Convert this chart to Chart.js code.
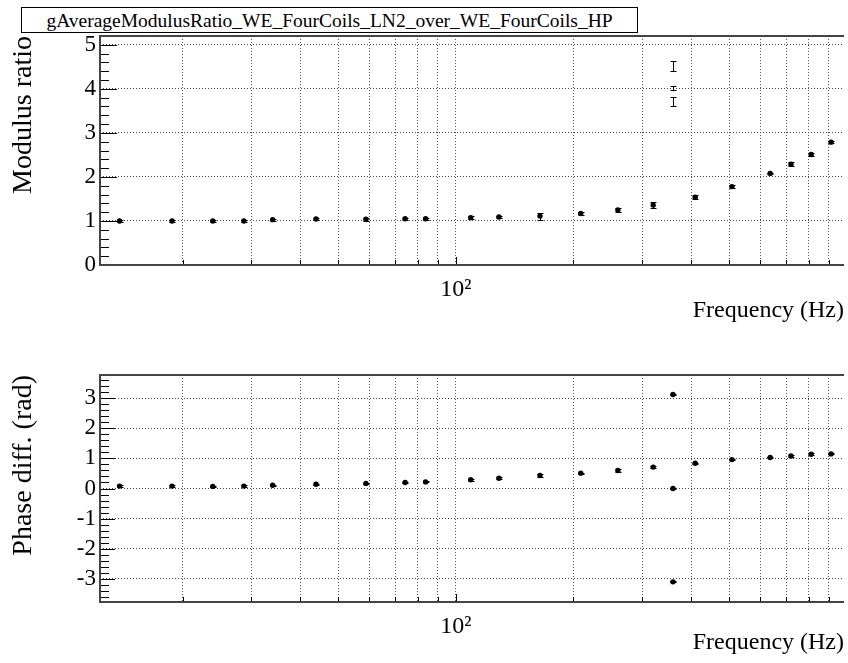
<!DOCTYPE html>
<html>
<head>
<meta charset="utf-8">
<script src="https://cdn.jsdelivr.net/npm/chart.js@4.4.0/dist/chart.umd.min.js"></script>
<style>
  html, body { margin: 0; padding: 0; background: #fff; }
  body { width: 848px; height: 663px; position: relative; overflow: hidden; }
  canvas { position: absolute; left: 0; }
  #modCanvas { top: 0; }
  #phaseCanvas { top: 331px; }
  #titleBox {
    position: absolute; left: 21px; top: 7px; width: 615px; height: 24px;
    border: 1px solid #000; background: #fff; z-index: 2;
    font-family: 'Liberation Serif', 'Times New Roman', serif; font-size: 19.5px;
    line-height: 25px; text-align: center; color: #000; white-space: nowrap;
  }
</style>
</head>
<body>
<canvas id="modCanvas" width="848" height="331"></canvas>
<canvas id="phaseCanvas" width="848" height="332"></canvas>
<div id="titleBox">gAverageModulusRatio_WE_FourCoils_LN2_over_WE_FourCoils_HP</div>
<script>
// measured points (Hz)
const freqHz = [13.8, 18.8, 23.9, 28.7, 34.0, 43.9, 58.9, 74.2, 83.7, 109.2, 128.9,
                164.2, 208.7, 259.8, 319.8, 409.6, 508.6, 637, 720, 811, 912];
const modulusRatio = [1.0, 1.0, 1.0, 1.0, 1.03, 1.045, 1.04, 1.05, 1.05, 1.075, 1.09,
                      1.11, 1.17, 1.25, 1.36, 1.54, 1.78, 2.08, 2.29, 2.51, 2.79];
const modulusErr = [0.02, 0.02, 0.02, 0.02, 0.02, 0.03, 0.03, 0.02, 0.02, 0.03, 0.03,
                    0.08, 0.04, 0.04, 0.075, 0.04, 0.03, 0.02, 0.04, 0.04, 0.02];
const phaseRad = [0.08, 0.08, 0.07, 0.08, 0.11, 0.14, 0.17, 0.20, 0.22, 0.29, 0.34,
                  0.43, 0.51, 0.60, 0.71, 0.84, 0.96, 1.03, 1.08, 1.14, 1.15];
const phaseErr = [0.03, 0.03, 0.02, 0.02, 0.02, 0.02, 0.02, 0.02, 0.02, 0.03, 0.03,
                  0.05, 0.02, 0.04, 0.03, 0.02, 0.02, 0.02, 0.02, 0.03, 0.02];

// the odd bin near 360 Hz
const jumpFreqHz = [359.3, 359.3, 359.3];
const jumpModulus = [4.52, 4.03, 3.72];
const jumpModulusErr = [0.12, 0.045, 0.10];
const jumpPhase = [3.12, 0.0, -3.10];
const jumpPhaseErr = [0.02, 0.03, 0.02];

// axes
const freqTicks = [20, 30, 40, 50, 60, 70, 80, 90, 100, 200, 300, 400, 500, 600, 700, 800, 900];
const freqMajor = [100];
const freqRange = [12.3, 984];
const modulusRange = [0, 5.2];
const phaseRange = [-3.77, 3.77];

const serif = "'Liberation Serif', 'Times New Roman', serif";

function isInt(v) {
  return Math.abs(v - Math.round(v)) < 1e-6;
}

function pts(xs, ys) {
  return xs.map((x, i) => ({ x: x, y: ys[i] }));
}

// y ticks every 0.2, labels only on integers
function yTickList(lo, hi) {
  let res = [];
  for (let k = Math.ceil(lo / 0.2 - 1e-9); k <= Math.floor(hi / 0.2 + 1e-9); k++) {
    res.push({ value: Math.round(k * 2) / 10 });
  }
  return res;
}

const errorBars = {
  id: 'errorBars',
  afterDatasetsDraw(chart) {
    const ctx = chart.ctx;
    const y = chart.scales.y;
    ctx.save();
    ctx.strokeStyle = '#000';
    ctx.lineWidth = 1;
    chart.data.datasets.forEach((ds, di) => {
      const meta = chart.getDatasetMeta(di);
      meta.data.forEach((pt, i) => {
        const e = ds.errors[i];
        const v = ds.data[i].y;
        const px = Math.round(pt.x) + 0.5;
        const y1 = Math.round(y.getPixelForValue(v + e)) + 0.5;
        const y2 = Math.round(y.getPixelForValue(v - e)) + 0.5;
        ctx.beginPath();
        ctx.moveTo(px, y1); ctx.lineTo(px, y2);
        ctx.moveTo(px - 3, y1); ctx.lineTo(px + 3, y1);
        ctx.moveTo(px - 3, y2); ctx.lineTo(px + 3, y2);
        ctx.stroke();
      });
    });
    ctx.restore();
  }
};

// ROOT style frame with ticks pointing inwards
const rootFrame = {
  id: 'rootFrame',
  afterDraw(chart, args, opts) {
    const ctx = chart.ctx;
    const a = chart.chartArea;
    const x = chart.scales.x, y = chart.scales.y;
    ctx.save();
    ctx.strokeStyle = '#000';
    ctx.lineWidth = 1;
    ctx.beginPath();
    y.ticks.forEach(t => {
      const py = Math.round(y.getPixelForValue(t.value)) + 0.5;
      const len = isInt(t.value) ? opts.yMajor : opts.yMinor;
      ctx.moveTo(a.left, py); ctx.lineTo(a.left + len, py);
    });
    x.ticks.forEach(t => {
      const px = Math.round(x.getPixelForValue(t.value)) + 0.5;
      const len = freqMajor.includes(t.value) ? opts.xMajor : opts.xMinor;
      ctx.moveTo(px, a.bottom); ctx.lineTo(px, a.bottom - len);
    });
    ctx.stroke();
    ctx.strokeStyle = '#444';
    ctx.lineWidth = 2;
    ctx.beginPath();
    ctx.moveTo(a.right, a.top);
    ctx.lineTo(a.left, a.top);
    ctx.lineTo(a.left, a.bottom);
    ctx.lineTo(a.right, a.bottom);
    ctx.stroke();
    ctx.restore();
  }
};

function makeChart(id, cfg) {
  return new Chart(document.getElementById(id), {
    type: 'scatter',
    data: {
      datasets: [{
        data: pts(freqHz, cfg.values),
        errors: cfg.errors,
        pointRadius: 2.7,
        pointBorderWidth: 0,
        backgroundColor: '#000',
        borderColor: '#000'
      }, {
        data: pts(jumpFreqHz, cfg.jumpValues),
        errors: cfg.jumpErrors,
        pointRadius: cfg.jumpRadius,
        pointBorderWidth: 0,
        backgroundColor: '#000',
        borderColor: '#000'
      }]
    },
    options: {
      responsive: false,
      animation: false,
      events: [],
      layout: { padding: { top: cfg.padTop, left: 0, right: 0, bottom: 0 } },
      plugins: {
        legend: { display: false },
        tooltip: { enabled: false },
        rootFrame: { yMajor: cfg.yMajorLen, yMinor: 9, xMajor: 8, xMinor: 5 }
      },
      scales: {
        x: {
          type: 'logarithmic',
          min: freqRange[0],
          max: freqRange[1],
          afterBuildTicks: s => { s.ticks = freqTicks.map(v => ({ value: v })); },
          afterFit: s => { s.height = cfg.xAxisHeight; },
          grid: { color: '#555', lineWidth: 1, drawTicks: false },
          border: { display: false, dash: [1, 2] },
          ticks: {
            autoSkip: false, maxRotation: 0, padding: 10, color: '#000',
            font: { family: serif, size: 24 },
            callback: v => freqMajor.includes(v) ? '10\u00B2' : ''
          },
          title: {
            display: true, text: 'Frequency (Hz)', align: 'end', color: '#000',
            font: { family: serif, size: 24 }, padding: { top: 0, bottom: 6 }
          }
        },
        y: {
          type: 'linear',
          min: cfg.range[0],
          max: cfg.range[1],
          afterBuildTicks: s => { s.ticks = yTickList(cfg.range[0], cfg.range[1]); },
          afterFit: s => { s.width = 100; },
          grid: {
            color: c => (c.tick && isInt(c.tick.value)) ? '#444' : 'rgba(0,0,0,0)',
            lineWidth: 1, drawTicks: false
          },
          border: { display: false, dash: [1, 2] },
          ticks: {
            autoSkip: false, padding: 4, color: '#000',
            font: { family: serif, size: 23 },
            callback: v => isInt(v) ? String(Math.round(v)) : ''
          },
          title: {
            display: true, text: cfg.yTitle, align: 'end', color: '#000',
            font: { family: serif, size: 28 }, padding: { top: 7, bottom: 0 }
          }
        }
      }
    },
    plugins: [errorBars, rootFrame]
  });
}

makeChart('modCanvas', {
  values: modulusRatio, errors: modulusErr,
  jumpValues: jumpModulus, jumpErrors: jumpModulusErr, jumpRadius: 0,
  range: modulusRange, yTitle: 'Modulus ratio',
  padTop: 36, xAxisHeight: 66, yMajorLen: 17
});

makeChart('phaseCanvas', {
  values: phaseRad, errors: phaseErr,
  jumpValues: jumpPhase, jumpErrors: jumpPhaseErr, jumpRadius: 2.7,
  range: phaseRange, yTitle: 'Phase diff. (rad)',
  padTop: 44, xAxisHeight: 61, yMajorLen: 15
});
</script>
</body>
</html>
